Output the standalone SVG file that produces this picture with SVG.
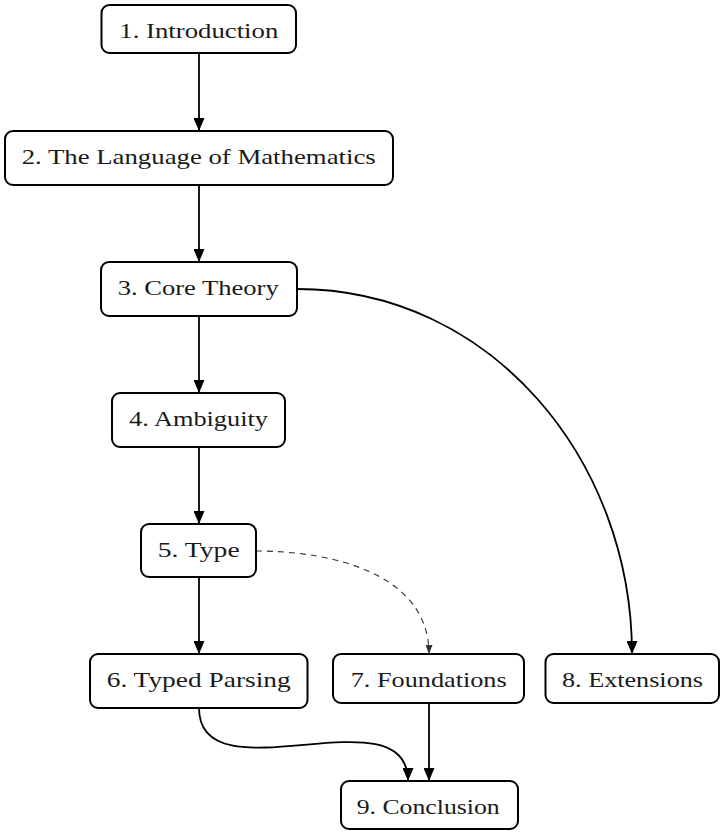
<svg xmlns="http://www.w3.org/2000/svg" width="720" height="833" viewBox="0 0 720 833">
  <style>
    .box { fill: #ffffff; stroke: #000000; stroke-width: 2; }
    .lbl { font-family: "Liberation Serif", "Times New Roman", serif; font-size: 22px; fill: #1a1a1a; }
    .edge { fill: none; stroke: #000000; stroke-width: 1.8; }
    .dash { fill: none; stroke: #333333; stroke-width: 1.1; stroke-dasharray: 6 5; }
  </style>
  <defs>
    <marker id="arr" markerUnits="userSpaceOnUse" markerWidth="13" markerHeight="11" viewBox="0 0 13 11" refX="13" refY="5.5" orient="auto">
      <path d="M0,0 L13,5.5 L0,11 z" fill="#000000"/>
    </marker>
    <marker id="arrs" markerUnits="userSpaceOnUse" markerWidth="9" markerHeight="7" viewBox="0 0 9 7" refX="9" refY="3.5" orient="auto">
      <path d="M0,0 L9,3.5 L0,7 z" fill="#333333"/>
    </marker>
  </defs>
  <rect width="720" height="833" fill="#ffffff"/>

  <g id="connectors">
    <path class="edge" d="M199,53 L199,131" marker-end="url(#arr)"/>
    <path class="edge" d="M199,185 L199,262" marker-end="url(#arr)"/>
    <path class="edge" d="M199,316 L199,393" marker-end="url(#arr)"/>
    <path class="edge" d="M199,447 L199,524" marker-end="url(#arr)"/>
    <path class="edge" d="M199,577 L199,654" marker-end="url(#arr)"/>
    <path class="edge" d="M297,289 C491,289 632,460 632,654" marker-end="url(#arr)"/>
    <path class="dash" d="M256,551 C335,551 429,575 429,654" marker-end="url(#arrs)"/>
    <path class="edge" d="M199,708 C199,800 408,690 408,781" marker-end="url(#arr)"/>
    <path class="edge" d="M429,703 L429,781" marker-end="url(#arr)"/>
  </g>

  <g id="n1">
    <rect class="box" x="101.5" y="5" width="194.5" height="48" rx="8"/>
    <text class="lbl" x="119.3" y="37.5" textLength="159" lengthAdjust="spacingAndGlyphs">1. Introduction</text>
  </g>
  <g id="n2">
    <rect class="box" x="5" y="131" width="388" height="54" rx="8"/>
    <text class="lbl" x="21.7" y="163.5" textLength="354" lengthAdjust="spacingAndGlyphs">2. The Language of Mathematics</text>
  </g>
  <g id="n3">
    <rect class="box" x="101" y="262" width="196" height="54" rx="8"/>
    <text class="lbl" x="117.7" y="295" textLength="161" lengthAdjust="spacingAndGlyphs">3. Core Theory</text>
  </g>
  <g id="n4">
    <rect class="box" x="112" y="393" width="173" height="54" rx="8"/>
    <text class="lbl" x="129" y="426" textLength="139" lengthAdjust="spacingAndGlyphs">4. Ambiguity</text>
  </g>
  <g id="n5">
    <rect class="box" x="141" y="524" width="115" height="53" rx="8"/>
    <text class="lbl" x="157.7" y="557" textLength="82" lengthAdjust="spacingAndGlyphs">5. Type</text>
  </g>
  <g id="n6">
    <rect class="box" x="90" y="654" width="217.5" height="54" rx="8"/>
    <text class="lbl" x="106.7" y="687" textLength="184" lengthAdjust="spacingAndGlyphs">6. Typed Parsing</text>
  </g>
  <g id="n7">
    <rect class="box" x="333" y="654" width="191" height="49" rx="8"/>
    <text class="lbl" x="350.7" y="687" textLength="156" lengthAdjust="spacingAndGlyphs">7. Foundations</text>
  </g>
  <g id="n8">
    <rect class="box" x="545.5" y="654" width="173.5" height="49" rx="8"/>
    <text class="lbl" x="562" y="687" textLength="141" lengthAdjust="spacingAndGlyphs">8. Extensions</text>
  </g>
  <g id="n9">
    <rect class="box" x="341" y="781" width="177" height="48" rx="8"/>
    <text class="lbl" x="356.7" y="813.5" textLength="143" lengthAdjust="spacingAndGlyphs">9. Conclusion</text>
  </g>
</svg>
